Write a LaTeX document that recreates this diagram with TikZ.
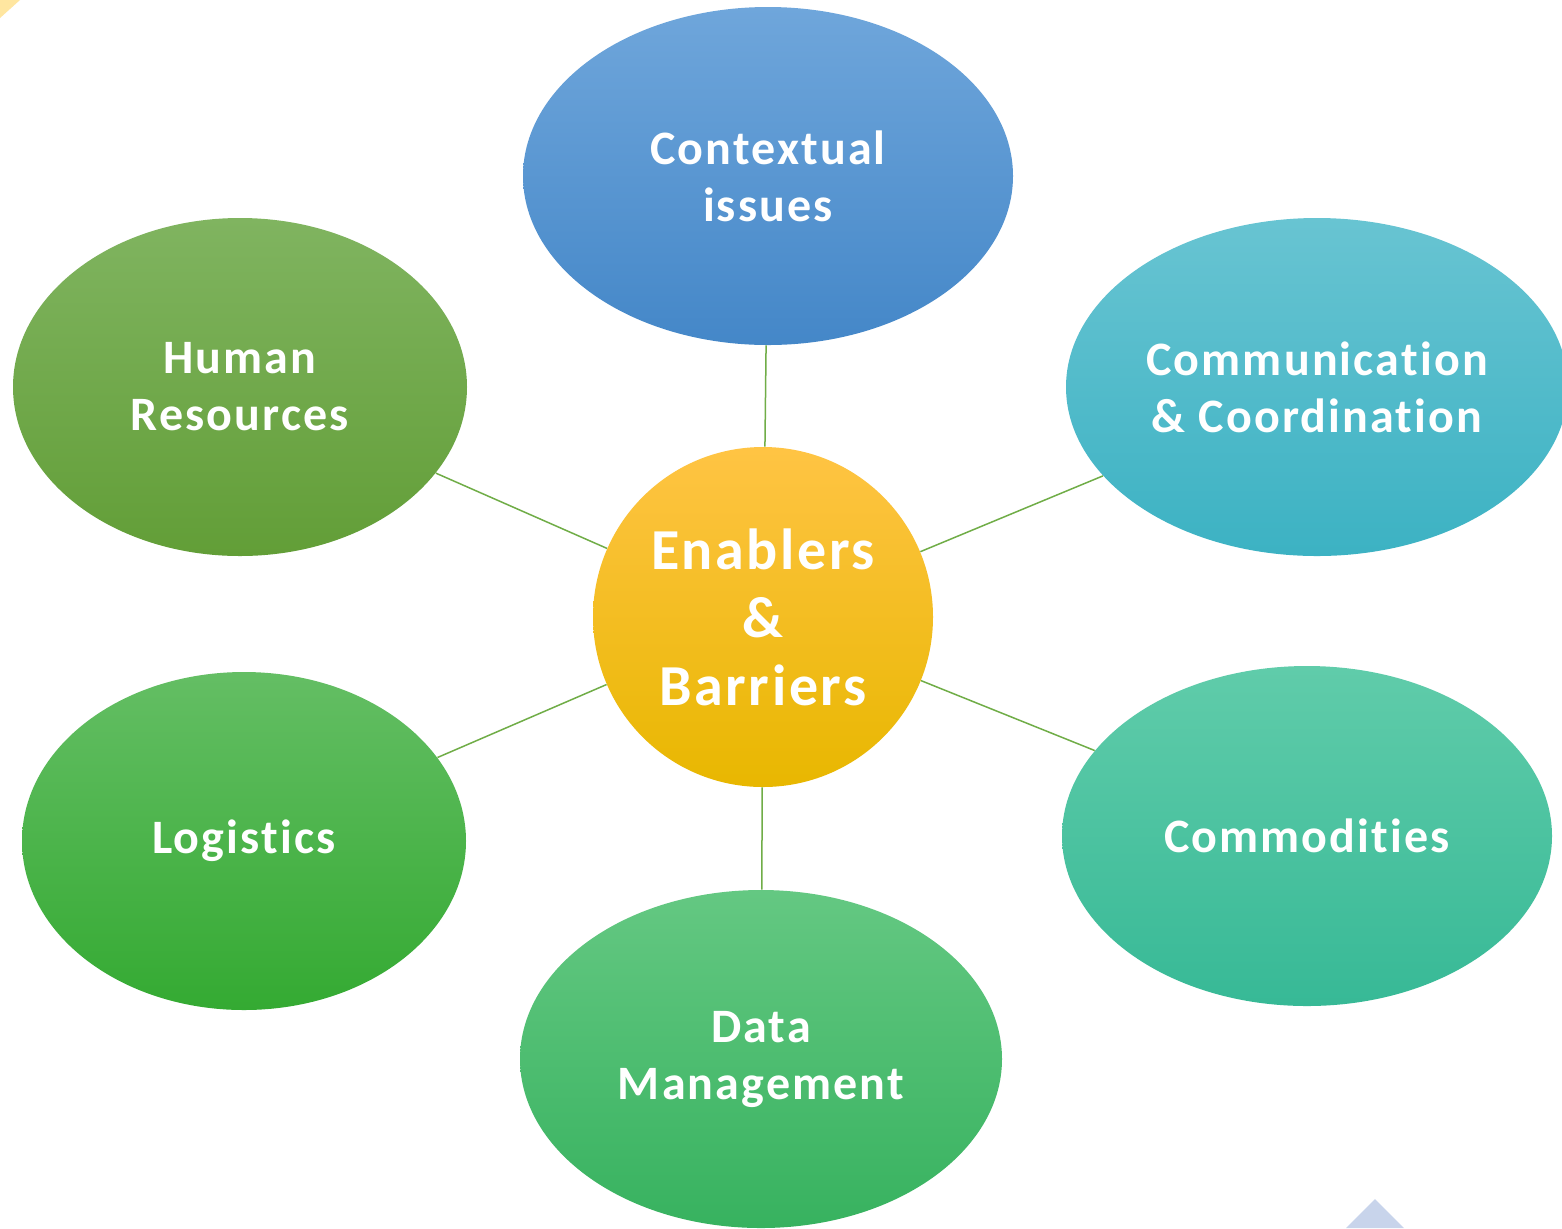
\documentclass[tikz,border=0pt]{standalone}
\usepackage{fontspec}
\setmainfont{Carlito}[Ligatures=NoCommon, LetterSpace=4.5]
\usetikzlibrary{shapes.geometric}
\definecolor{lk}{RGB}{112,173,71}
\tikzset{
  bub/.style={ellipse, inner sep=0pt, align=center, text=white,
    font=\fontsize{24}{28.5}\selectfont\bfseries, minimum height=169pt},
  lnk/.style={draw=lk, line width=0.75pt},
}
\begin{document}
\begin{tikzpicture}[x=0.5pt,y=-0.5pt]
\clip (0,0) rectangle (1562,1228);
\fill[white] (0,0) rectangle (1562,1228);
% corner decorations
\fill[fill={rgb,255:red,255;green,230;blue,160}] (0,0) -- (20,0) -- (0,18) -- cycle;
\fill[fill={rgb,255:red,200;green,212;blue,235}] (1346,1228) -- (1375,1199) -- (1404,1228) -- cycle;
% center
\node[circle, inner sep=0pt, minimum size=170pt, align=center, text=white,
  font=\fontsize{29}{34}\selectfont\bfseries,
  top color={rgb,255:red,255;green,196;blue,68},
  middle color={rgb,255:red,252;green,200;blue,6},
  bottom color={rgb,255:red,232;green,183;blue,0}] (ctr) at (763,617) {Enablers\\\&\\Barriers};
% outer
\node[bub, minimum width=245pt,
  top color={rgb,255:red,111;green,166;blue,219},
  middle color={rgb,255:red,81;green,152;blue,220},
  bottom color={rgb,255:red,68;green,135;blue,200}] (ctx) at (768,176) {Contextual\\issues};
\node[bub, minimum width=227pt,
  top color={rgb,255:red,128;green,180;blue,96},
  middle color={rgb,255:red,112;green,173;blue,71},
  bottom color={rgb,255:red,98;green,158;blue,55}] (hr) at (240,387) {Human\\Resources};
\node[bub, minimum width=251pt,
  top color={rgb,255:red,104;green,196;blue,210},
  middle color={rgb,255:red,75;green,195;blue,210},
  bottom color={rgb,255:red,60;green,178;blue,195}] (com) at (1317,387) {Communication\\\& Coordination};
\node[bub, minimum width=222pt,
  top color={rgb,255:red,100;green,190;blue,100},
  middle color={rgb,255:red,65;green,185;blue,65},
  bottom color={rgb,255:red,52;green,170;blue,50}] (log) at (244,841) {Logistics};
\node[bub, minimum width=245pt, minimum height=170pt,
  top color={rgb,255:red,96;green,204;blue,170},
  middle color={rgb,255:red,75;green,200;blue,165},
  bottom color={rgb,255:red,55;green,185;blue,150}] (cmd) at (1307,836) {Commodities};
\node[bub, minimum width=241pt,
  top color={rgb,255:red,100;green,200;blue,130},
  middle color={rgb,255:red,70;green,190;blue,110},
  bottom color={rgb,255:red,55;green,178;blue,95}] (dat) at (761,1059) {Data\\Management};
% links
\draw[lnk] (ctr) -- (ctx);
\draw[lnk] (ctr) -- (hr);
\draw[lnk] (ctr) -- (com);
\draw[lnk] (ctr) -- (log);
\draw[lnk] (ctr) -- (cmd);
\draw[lnk] (ctr) -- (dat);
\end{tikzpicture}
\end{document}
